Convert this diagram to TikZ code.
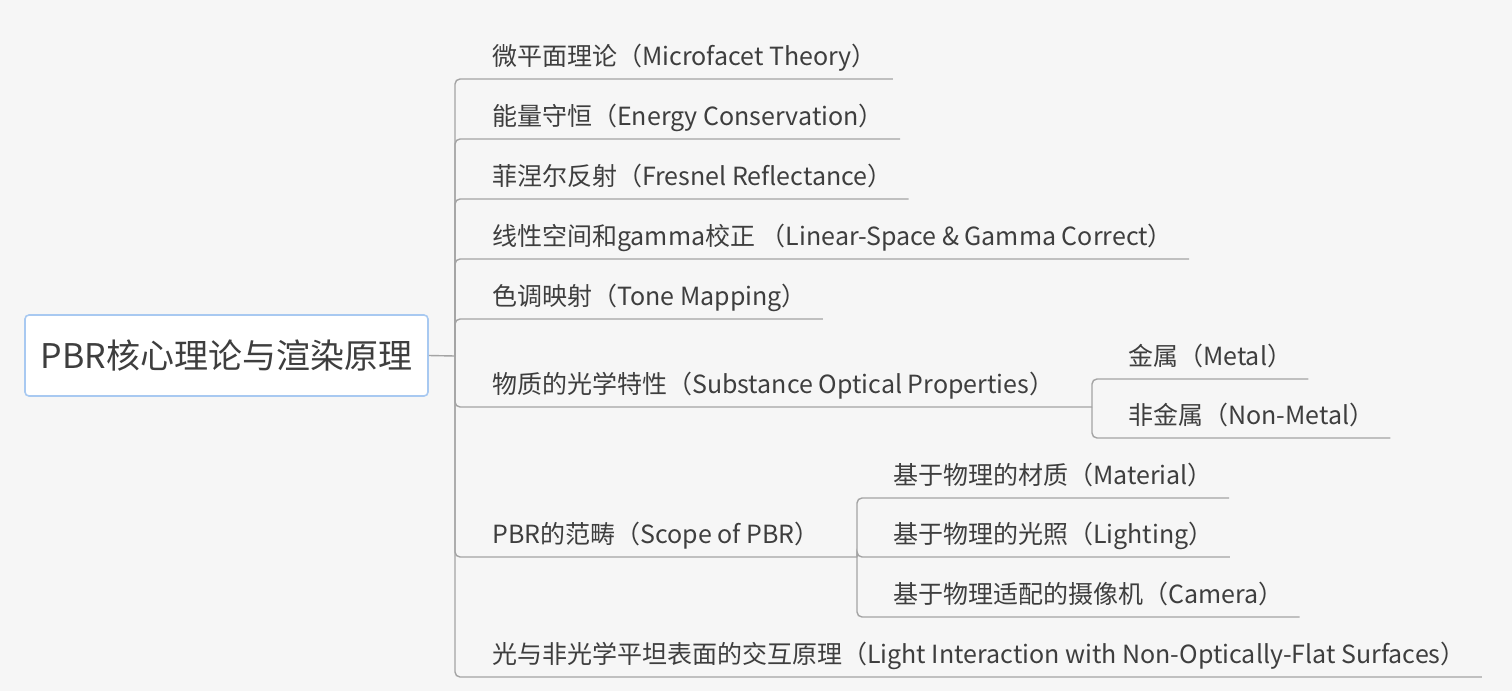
\documentclass[tikz,border=0pt]{standalone}
\usepackage{fontspec}
\setmainfont{Noto Sans CJK SC}
\usepackage{tikz}

\definecolor{bgcol}{HTML}{F6F6F6}
\definecolor{txtcol}{HTML}{3E3E3E}
\definecolor{linecol}{HTML}{A4A4A4}
\definecolor{rootline}{HTML}{A8C9F1}

\begin{document}
\begin{tikzpicture}[x=1pt,y=-1pt,
  topic/.style={anchor=south west,inner sep=0pt,text depth=13pt,text=txtcol,font=\fontsize{25}{30}\selectfont},
  branch/.style={draw=linecol,line width=1.4pt,rounded corners=5pt}]
\fill[bgcol] (0,0) rectangle (1512,691);
\useasboundingbox (0,0) rectangle (1512,691);

\node[draw=rootline,fill=white,line width=1.6pt,rounded corners=4pt,minimum width=403pt,minimum height=81pt,inner sep=0pt,text=txtcol,font=\fontsize{34}{40}\selectfont] (root) at (226.5,355.5) {PBR核心理论与渲染原理};
\coordinate (hub) at (455,356);
\draw[branch] (root.east) -- (hub);

\node[topic] (t1) at (492,79) {微平面理论（Microfacet Theory）};
\node[topic] (t2) at (492,139) {能量守恒（Energy Conservation）};
\node[topic] (t3) at (492,199) {菲涅尔反射（Fresnel Reflectance）};
\node[topic] (t4) at (492,259) {线性空间和gamma校正 （Linear-Space \& Gamma Correct）};
\node[topic] (t5) at (492,319) {色调映射（Tone Mapping）};
\node[topic] (t6) at (492,407) {物质的光学特性（Substance Optical Properties）};
\node[topic] (t7) at (492,557) {PBR的范畴（Scope of PBR）};
\node[topic] (t8) at (492,677) {光与非光学平坦表面的交互原理（Light Interaction with Non-Optically-Flat Surfaces）};

\draw[branch] (hub) |- ([xshift=16pt]t1.south east);
\draw[branch] (hub) |- ([xshift=16pt]t2.south east);
\draw[branch] (hub) |- ([xshift=16pt]t3.south east);
\draw[branch] (hub) |- ([xshift=16pt]t4.south east);
\draw[branch] (hub) |- ([xshift=16pt]t5.south east);
\draw[branch] (hub) |- ([xshift=16pt]t8.south east);

% substance
\coordinate (sub6) at (1092,407);
\draw[branch] (hub) |- (sub6);
\node[topic] (metal) at (1128,379) {金属（Metal）};
\node[topic] (nonmetal) at (1128,438) {非金属（Non-Metal）};
\draw[branch] (sub6) |- ([xshift=16pt]metal.south east);
\draw[branch] (sub6) |- ([xshift=16pt]nonmetal.south east);

% scope
\coordinate (sub7) at (857,557);
\draw[branch] (hub) |- (sub7);
\node[topic] (material) at (893,498) {基于物理的材质（Material）};
\node[topic] (lighting) at (893,557) {基于物理的光照（Lighting）};
\node[topic] (camera) at (893,617) {基于物理适配的摄像机（Camera）};
\draw[branch] (sub7) |- ([xshift=16pt]material.south east);
\draw[branch] (sub7) |- ([xshift=16pt]lighting.south east);
\draw[branch] (sub7) |- ([xshift=16pt]camera.south east);
\end{tikzpicture}
\end{document}
